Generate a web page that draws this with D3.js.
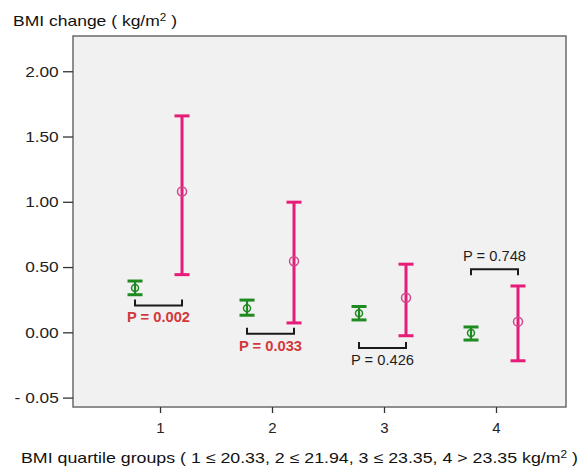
<!DOCTYPE html>
<html>
<head>
<meta charset="utf-8">
<script src="https://cdn.jsdelivr.net/npm/d3@7"></script>
<style>
  body { margin: 0; background: #fff; }
  svg { display: block; font-family: "Liberation Sans", Arial, sans-serif; }
</style>
</head>
<body>
<svg id="chart" width="582" height="470"></svg>
<script>
// ---- data ----
const groups = ["1", "2", "3", "4"];
const greenMean = [0.34, 0.185, 0.146, -0.005];
const greenLow  = [0.288, 0.131, 0.095, -0.059];
const greenHigh = [0.393, 0.247, 0.198, 0.041];
const pinkMean  = [1.079, 0.545, 0.265, 0.082];
const pinkLow   = [0.442, 0.072, -0.026, -0.218];
const pinkHigh  = [1.658, 0.997, 0.522, 0.355];
const pLabels   = ["P = 0.002", "P = 0.033", "P = 0.426", "P = 0.748"];
const pSignificant = [true, true, false, false];
const pLevel    = [0.206, -0.01, -0.12, 0.483];
const pAbove    = [false, false, false, true];
const yTickValues = [2, 1.5, 1, 0.5, 0, -0.5];
const yTickLabels = ["2.00", "1.50", "1.00", "0.50", "0.00", "- 0.05"];
const yTitle = "BMI change ( kg/m";
const xTitle = "BMI quartile groups ( 1 \u2264 20.33, 2 \u2264 21.94, 3 \u2264 23.35, 4 > 23.35 kg/m";

// ---- layout ----
const svg = d3.select("#chart");
const L = 73, R = 566, T = 36, B = 407;
const x = d3.scaleLinear().domain([0.223, 4.625]).range([L, R]);
const y = d3.scaleLinear().domain([-0.572, 2.27]).range([B, T]);
const GREEN = "#1f8a1f", PINK = "#e61c78", PINKC = "#d3448c";
const RED = "#d2393b", BLACK = "#1e1e1e";
const gOff = -25, pOff = 22, cap = 7.5;

svg.append("rect").attr("x", L).attr("y", T).attr("width", R - L).attr("height", B - T)
  .attr("fill", "#f1f1f1").attr("stroke", "#6b6b6b").attr("stroke-width", 1.5);

// y axis
const yAxis = svg.append("g").attr("transform", `translate(${L},0)`)
  .call(d3.axisLeft(y).tickValues(yTickValues).tickFormat((d, i) => yTickLabels[i]).tickSize(10).tickPadding(6));
yAxis.select(".domain").remove();
yAxis.selectAll(".tick line").attr("stroke", "#333").attr("stroke-width", 1.3);
yAxis.selectAll(".tick text").attr("font-size", 15).attr("fill", "#222")
  .attr("font-family", "Liberation Sans, Arial, sans-serif").attr("transform", "scale(1.12,1)").attr("x", -16 / 1.12)
  .attr("transform", null);
yAxis.selectAll(".tick text").each(function () {
  const t = d3.select(this);
  const w = this.getComputedTextLength();
  t.attr("textLength", w * 1.15).attr("lengthAdjust", "spacingAndGlyphs");
});

// x axis
const xAxis = svg.append("g").attr("transform", `translate(0,${B})`)
  .call(d3.axisBottom(x).tickValues([1, 2, 3, 4]).tickFormat((d, i) => groups[i]).tickSize(6).tickPadding(9));
xAxis.select(".domain").remove();
xAxis.selectAll(".tick line").attr("stroke", "#333").attr("stroke-width", 1.3);
xAxis.selectAll(".tick text").attr("font-size", 15).attr("fill", "#222")
  .attr("font-family", "Liberation Sans, Arial, sans-serif");

// titles
const yt = svg.append("text").attr("x", 13).attr("y", 26).attr("font-size", 15).attr("fill", "#111")
  .attr("textLength", 164).attr("lengthAdjust", "spacingAndGlyphs");
yt.append("tspan").text(yTitle);
yt.append("tspan").attr("dy", -5).attr("font-size", 10).text("2");
yt.append("tspan").attr("dy", 5).text(" )");

const xt = svg.append("text").attr("x", 21).attr("y", 463).attr("font-size", 15).attr("fill", "#111")
  .attr("textLength", 557).attr("lengthAdjust", "spacingAndGlyphs");
xt.append("tspan").text(xTitle);
xt.append("tspan").attr("dy", -5).attr("font-size", 10).text("2");
xt.append("tspan").attr("dy", 5).text(" )");

// error bars
const plot = svg.append("g");
function errBar(cx, lo, hi, mean, color, circColor, lw, cw, r) {
  plot.append("line").attr("x1", cx).attr("x2", cx).attr("y1", y(lo)).attr("y2", y(hi))
    .attr("stroke", color).attr("stroke-width", lw);
  [lo, hi].forEach(v => plot.append("line").attr("x1", cx - cap).attr("x2", cx + cap)
    .attr("y1", y(v)).attr("y2", y(v)).attr("stroke", color).attr("stroke-width", cw));
  plot.append("circle").attr("cx", cx).attr("cy", y(mean)).attr("r", r)
    .attr("fill", "none").attr("stroke", circColor).attr("stroke-width", 1.5);
}
groups.forEach((g, i) => {
  const cx = x(i + 1);
  errBar(cx + gOff, greenLow[i], greenHigh[i], greenMean[i], GREEN, GREEN, 2.2, 3, 3.5);
  errBar(cx + pOff, pinkLow[i], pinkHigh[i], pinkMean[i], PINK, PINKC, 3, 3, 4.5);

  // bracket
  const x1 = cx + gOff, x2 = cx + pOff, yy = y(pLevel[i]);
  const tick = pAbove[i] ? 6 : -6;
  plot.append("path")
    .attr("d", `M${x1},${yy + tick}V${yy}H${x2}V${yy + tick}`)
    .attr("fill", "none").attr("stroke", "#1a1a1a").attr("stroke-width", 2);
  plot.append("text").attr("x", (x1 + x2) / 2).attr("y", pAbove[i] ? yy - 8 : yy + 17)
    .attr("text-anchor", "middle").attr("font-size", 14)
    .attr("font-weight", pSignificant[i] ? "bold" : "normal")
    .attr("fill", pSignificant[i] ? RED : BLACK)
    .attr("textLength", 63).attr("lengthAdjust", "spacingAndGlyphs")
    .text(pLabels[i]);
});
</script>
</body>
</html>
